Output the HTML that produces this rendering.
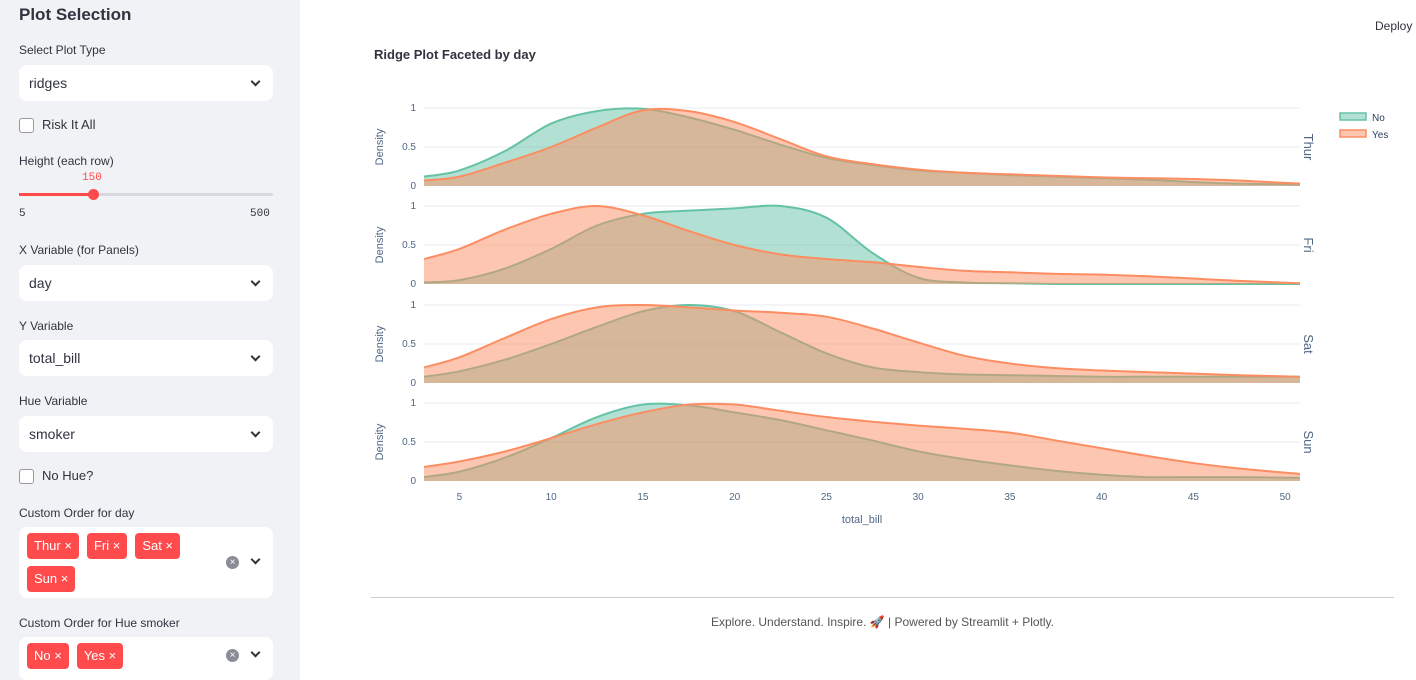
<!DOCTYPE html>
<html><head><meta charset="utf-8"><style>
*{box-sizing:border-box;margin:0;padding:0}
body{width:1416px;height:680px;overflow:hidden;font-family:"Liberation Sans",sans-serif;color:#31333f;background:#fff;position:relative}
#sb{position:absolute;left:0;top:0;width:300px;height:680px;background:#f0f2f6}
.a{position:absolute}
.lbl{font-size:12px;color:#31333f}
.sel{position:absolute;left:19px;width:254px;height:36px;background:#fff;border-radius:8px;font-size:14px;padding:10px 10px}
.chev{position:absolute;right:14px;top:13px;width:7px;height:7px;border-right:2px solid #31333f;border-bottom:2px solid #31333f;transform:rotate(45deg)}
.cb{position:absolute;left:19px;width:15px;height:15px;border:1px solid #999;border-radius:3px;background:#fff}
.tag{display:inline-block;background:#ff4b4b;color:#fff;font-size:13px;height:26px;line-height:26px;padding:0 7px;border-radius:4px;margin-right:8px}
.ms{position:absolute;left:19px;width:254px;background:#fff;border-radius:8px}
.xc{position:absolute;width:13px;height:13px;border-radius:50%;background:#8a8c96;color:#fff;font-size:10px;line-height:13px;text-align:center}
</style></head><body>
<div id="sb">
<div class="a" style="left:19px;top:5px;font-size:17px;font-weight:bold">Plot Selection</div>
<div class="a lbl" style="left:19px;top:43px">Select Plot Type</div>
<div class="sel" style="top:65px">ridges<span class="chev"></span></div>
<div class="cb" style="top:118px"></div>
<div class="a" style="left:42px;top:117px;font-size:13px">Risk It All</div>
<div class="a lbl" style="left:19px;top:154px">Height (each row)</div>
<div class="a" style="left:82px;top:172px;font-family:'Liberation Mono',monospace;font-size:11px;color:#ff4b4b">150</div>
<div class="a" style="left:19px;top:193px;width:254px;height:3px;background:#d5d8de;border-radius:2px"></div>
<div class="a" style="left:19px;top:193px;width:74px;height:3px;background:#ff4b4b"></div>
<div class="a" style="left:88px;top:189px;width:11px;height:11px;border-radius:50%;background:#ff4b4b"></div>
<div class="a" style="left:19px;top:208px;font-family:'Liberation Mono',monospace;font-size:11px">5</div>
<div class="a" style="left:250px;top:208px;font-family:'Liberation Mono',monospace;font-size:11px">500</div>
<div class="a lbl" style="left:19px;top:243px">X Variable (for Panels)</div>
<div class="sel" style="top:265px">day<span class="chev"></span></div>
<div class="a lbl" style="left:19px;top:319px">Y Variable</div>
<div class="sel" style="top:340px">total_bill<span class="chev"></span></div>
<div class="a lbl" style="left:19px;top:394px">Hue Variable</div>
<div class="sel" style="top:416px">smoker<span class="chev"></span></div>
<div class="cb" style="top:469px"></div>
<div class="a" style="left:42px;top:468px;font-size:13px">No Hue?</div>
<div class="a lbl" style="left:19px;top:506px">Custom Order for day</div>
<div class="ms" style="top:527px;height:71px;padding:6px 8px">
<span class="tag">Thur ×</span><span class="tag">Fri ×</span><span class="tag">Sat ×</span><br><span class="tag" style="margin-top:7px">Sun ×</span>
<span class="xc" style="left:207px;top:29px">×</span><span class="chev" style="top:29px"></span></div>
<div class="a lbl" style="left:19px;top:616px">Custom Order for Hue smoker</div>
<div class="ms" style="top:637px;height:43px;padding:6px 8px">
<span class="tag">No ×</span><span class="tag">Yes ×</span>
<span class="xc" style="left:207px;top:12px">×</span><span class="chev" style="top:12px"></span></div>
</div>
<div class="a" style="left:1375px;top:19px;font-size:12px">Deploy</div>
<svg class="a" style="left:0;top:0" width="1416" height="680" id="chart">
<text x="374" y="59" font-size="13" font-weight="bold" fill="#31333f">Ridge Plot Faceted by day</text>
</svg>
<div class="a" style="left:371px;top:597px;width:1023px;height:1px;background:#ccc"></div>
<div class="a" style="left:371px;top:615px;width:1023px;text-align:center;font-size:12px;color:#555">Explore. Understand. Inspire. 🚀 | Powered by Streamlit + Plotly.</div>
<script>
const xs=[3.07,5,7.5,10,12.5,15,17.5,20,22.5,25,27.5,30,32.5,35,37.5,40,42.5,45,47.5,50.81];
const days=["Thur","Fri","Sat","Sun"];
const hues=["No","Yes"];
const thurNo=[0.12,0.2,0.45,0.8,0.96,0.99,0.88,0.72,0.53,0.36,0.27,0.2,0.17,0.14,0.12,0.1,0.08,0.05,0.03,0.02];
const thurYes=[0.07,0.12,0.3,0.5,0.75,0.97,0.96,0.82,0.6,0.38,0.28,0.21,0.17,0.15,0.13,0.11,0.1,0.09,0.07,0.03];
const friNo=[0.02,0.05,0.2,0.45,0.75,0.9,0.94,0.97,1.0,0.85,0.4,0.08,0.02,0.01,0,0,0,0,0,0];
const friYes=[0.32,0.45,0.7,0.9,1.0,0.88,0.68,0.5,0.38,0.32,0.28,0.22,0.17,0.15,0.13,0.12,0.1,0.07,0.04,0.01];
const satNo=[0.08,0.15,0.3,0.5,0.72,0.92,1.0,0.92,0.65,0.38,0.2,0.14,0.11,0.1,0.09,0.08,0.08,0.08,0.08,0.08];
const satYes=[0.2,0.33,0.58,0.82,0.97,1.0,0.97,0.93,0.9,0.85,0.7,0.52,0.35,0.25,0.19,0.16,0.14,0.12,0.1,0.08];
const sunNo=[0.05,0.12,0.3,0.55,0.82,0.98,0.97,0.88,0.78,0.65,0.52,0.38,0.28,0.2,0.13,0.08,0.05,0.05,0.05,0.04];
const sunYes=[0.18,0.25,0.38,0.55,0.73,0.88,0.98,0.98,0.9,0.82,0.76,0.71,0.67,0.62,0.52,0.42,0.32,0.23,0.16,0.09];
const xTicks=[5,10,15,20,25,30,35,40,45,50];
const yTicks=[0,0.5,1];
const series=[[thurNo,thurYes],[friNo,friYes],[satNo,satYes],[sunNo,sunYes]];
const colors=["#66c2a5","#fc8d62"];
const svg=document.getElementById('chart');const NS="http://www.w3.org/2000/svg";
const X0=424,X1=1300,xmin=3.07,xmax=50.81;
const X=v=>X0+(v-xmin)/(xmax-xmin)*(X1-X0);
const bases=[186,284,383,481],H=78;
function mk(t,a,p){const e=document.createElementNS(NS,t);for(const k in a)e.setAttribute(k,a[k]);(p||svg).appendChild(e);return e;}
function smooth(pts){let d="M"+pts[0][0]+","+pts[0][1];for(let i=0;i<pts.length-1;i++){const p0=pts[i-1]||pts[i],p1=pts[i],p2=pts[i+1],p3=pts[i+2]||p2;d+=` C${p1[0]+(p2[0]-p0[0])/6},${p1[1]+(p2[1]-p0[1])/6} ${p2[0]-(p3[0]-p1[0])/6},${p2[1]-(p3[1]-p1[1])/6} ${p2[0]},${p2[1]}`;}return d;}
days.forEach((day,i)=>{
 const b=bases[i],Y=v=>b-v*H;
 yTicks.forEach(t=>{const g=mk('line',{x1:X0,x2:X1,y1:Y(t),y2:Y(t),stroke:t===0?'#fff':'#e8ebf0','stroke-width':1});
  const tx=mk('text',{x:416,y:Y(t)+3,'font-size':10,fill:'#506784','text-anchor':'end'});tx.textContent=t;});
 const yl=mk('text',{x:0,y:0,'font-size':11,fill:'#506784','text-anchor':'middle',transform:`translate(383,${b-39}) rotate(-90)`});yl.textContent='Density';
 const fl=mk('text',{x:0,y:0,'font-size':13,fill:'#506784','text-anchor':'middle',transform:`translate(1304,${b-39}) rotate(90)`});fl.textContent=day;
 series[i].forEach((arr,j)=>{
  const pts=xs.map((x,k)=>[X(x),Y(arr[k])]);const d=smooth(pts);
  const a=mk('path',{d:d+` L${X1},${b} L${X0},${b} Z`,fill:colors[j],'fill-opacity':0.5});
  const l=mk('path',{d:d,fill:'none',stroke:colors[j],'stroke-width':2});
 });
});
xTicks.forEach(t=>{const tx=mk('text',{x:X(t),y:500,'font-size':10,fill:'#506784','text-anchor':'middle'});tx.textContent=t;});
const xt=mk('text',{x:862,y:523,'font-size':11,fill:'#506784','text-anchor':'middle'});xt.textContent='total_bill';
hues.forEach((h,j)=>{const y=117+j*17;
 const r=mk('rect',{x:1340,y:y-4,width:26,height:7,fill:colors[j],'fill-opacity':0.5,stroke:colors[j],'stroke-width':1.5});
 const t=mk('text',{x:1372,y:y+4,'font-size':10,fill:'#2a3f5f'});t.textContent=h;});
</script>
</body></html>
